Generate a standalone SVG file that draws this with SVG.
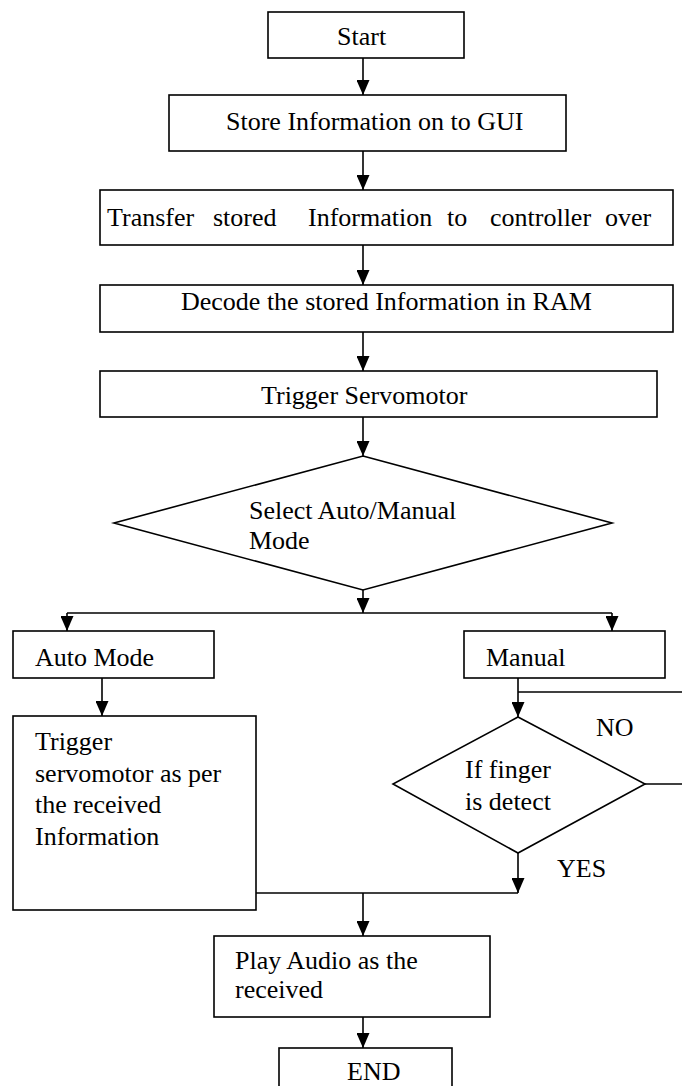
<svg xmlns="http://www.w3.org/2000/svg" width="682" height="1086" viewBox="0 0 682 1086">
<defs>
<marker id="ah" markerUnits="userSpaceOnUse" markerWidth="15" markerHeight="13" refX="15" refY="6.5" orient="auto">
<path d="M0,0 L15,6.5 L0,13 z" fill="#000"/>
</marker>
<style>
.box{fill:#fff;stroke:#000;stroke-width:1.6}
.ln{fill:none;stroke:#000;stroke-width:1.6}
.ar{fill:none;stroke:#000;stroke-width:1.6;marker-end:url(#ah)}
</style>
</defs>
<rect width="682" height="1086" fill="#fff"/>
<g font-family="Liberation Serif, Times New Roman, DejaVu Serif, serif" font-size="26" fill="#000">
<g id="connectors">
<line class="ar" x1="363" y1="58" x2="363" y2="95"/>
<line class="ar" x1="363" y1="151" x2="363" y2="190"/>
<line class="ar" x1="363" y1="245" x2="363" y2="285"/>
<line class="ar" x1="363" y1="332" x2="363" y2="371"/>
<line class="ar" x1="363" y1="417" x2="363" y2="456"/>
<line class="ar" x1="363" y1="590" x2="363" y2="613"/>
<line class="ln" x1="67" y1="613" x2="612" y2="613"/>
<line class="ar" x1="67" y1="613" x2="67" y2="631"/>
<line class="ar" x1="612" y1="613" x2="612" y2="631"/>
<line class="ar" x1="102" y1="678" x2="102" y2="716"/>
<line class="ar" x1="518" y1="678" x2="518" y2="717"/>
<line class="ln" x1="518" y1="692" x2="682" y2="692"/>
<line class="ln" x1="645" y1="784" x2="682" y2="784"/>
<line class="ar" x1="518" y1="853" x2="518" y2="893"/>
<line class="ln" x1="256" y1="893" x2="518" y2="893"/>
<line class="ar" x1="363" y1="893" x2="363" y2="936"/>
<line class="ar" x1="363" y1="1017" x2="363" y2="1048"/>
<text x="596" y="736">NO</text>
<text x="557" y="877">YES</text>
</g>
<g id="start">
<rect class="box" x="268" y="12" width="196" height="46"/>
<text x="337" y="45">Start</text>
</g>
<g id="store">
<rect class="box" x="169" y="95" width="397" height="56"/>
<text x="226" y="130">Store Information on to GUI</text>
</g>
<g id="transfer">
<rect class="box" x="100" y="190" width="573" height="55"/>
<text y="226"><tspan x="107">Transfer</tspan><tspan x="213">stored</tspan><tspan x="308">Information</tspan><tspan x="447">to</tspan><tspan x="490">controller</tspan><tspan x="605">over</tspan></text>
</g>
<g id="decode">
<rect class="box" x="100" y="285" width="573" height="47"/>
<text x="181" y="310">Decode the stored Information in RAM</text>
</g>
<g id="trigger">
<rect class="box" x="100" y="371" width="557" height="46"/>
<text x="261" y="404">Trigger Servomotor</text>
</g>
<g id="select">
<polygon class="box" points="363,456 612,523 363,590 114,523"/>
<text x="249" y="519">Select Auto/Manual</text>
<text x="249" y="549">Mode</text>
</g>
<g id="auto">
<rect class="box" x="13" y="631" width="201" height="47"/>
<text x="35" y="666">Auto Mode</text>
</g>
<g id="manual">
<rect class="box" x="464" y="631" width="201" height="47"/>
<text x="486" y="666">Manual</text>
</g>
<g id="trigger-auto">
<rect class="box" x="13" y="716" width="243" height="194"/>
<text x="35" y="750">Trigger</text>
<text x="35" y="782">servomotor as per</text>
<text x="35" y="813">the received</text>
<text x="35" y="845">Information</text>
</g>
<g id="finger">
<polygon class="box" points="518,717 645,784 518,853 393,784"/>
<text x="465" y="778">If finger</text>
<text x="465" y="810">is detect</text>
</g>
<g id="play">
<rect class="box" x="214" y="936" width="276" height="81"/>
<text x="235" y="969">Play Audio as the</text>
<text x="235" y="998">received</text>
</g>
<g id="end">
<rect class="box" x="279" y="1048" width="173" height="50"/>
<text x="347" y="1080">END</text>
</g>
</g>
</svg>
